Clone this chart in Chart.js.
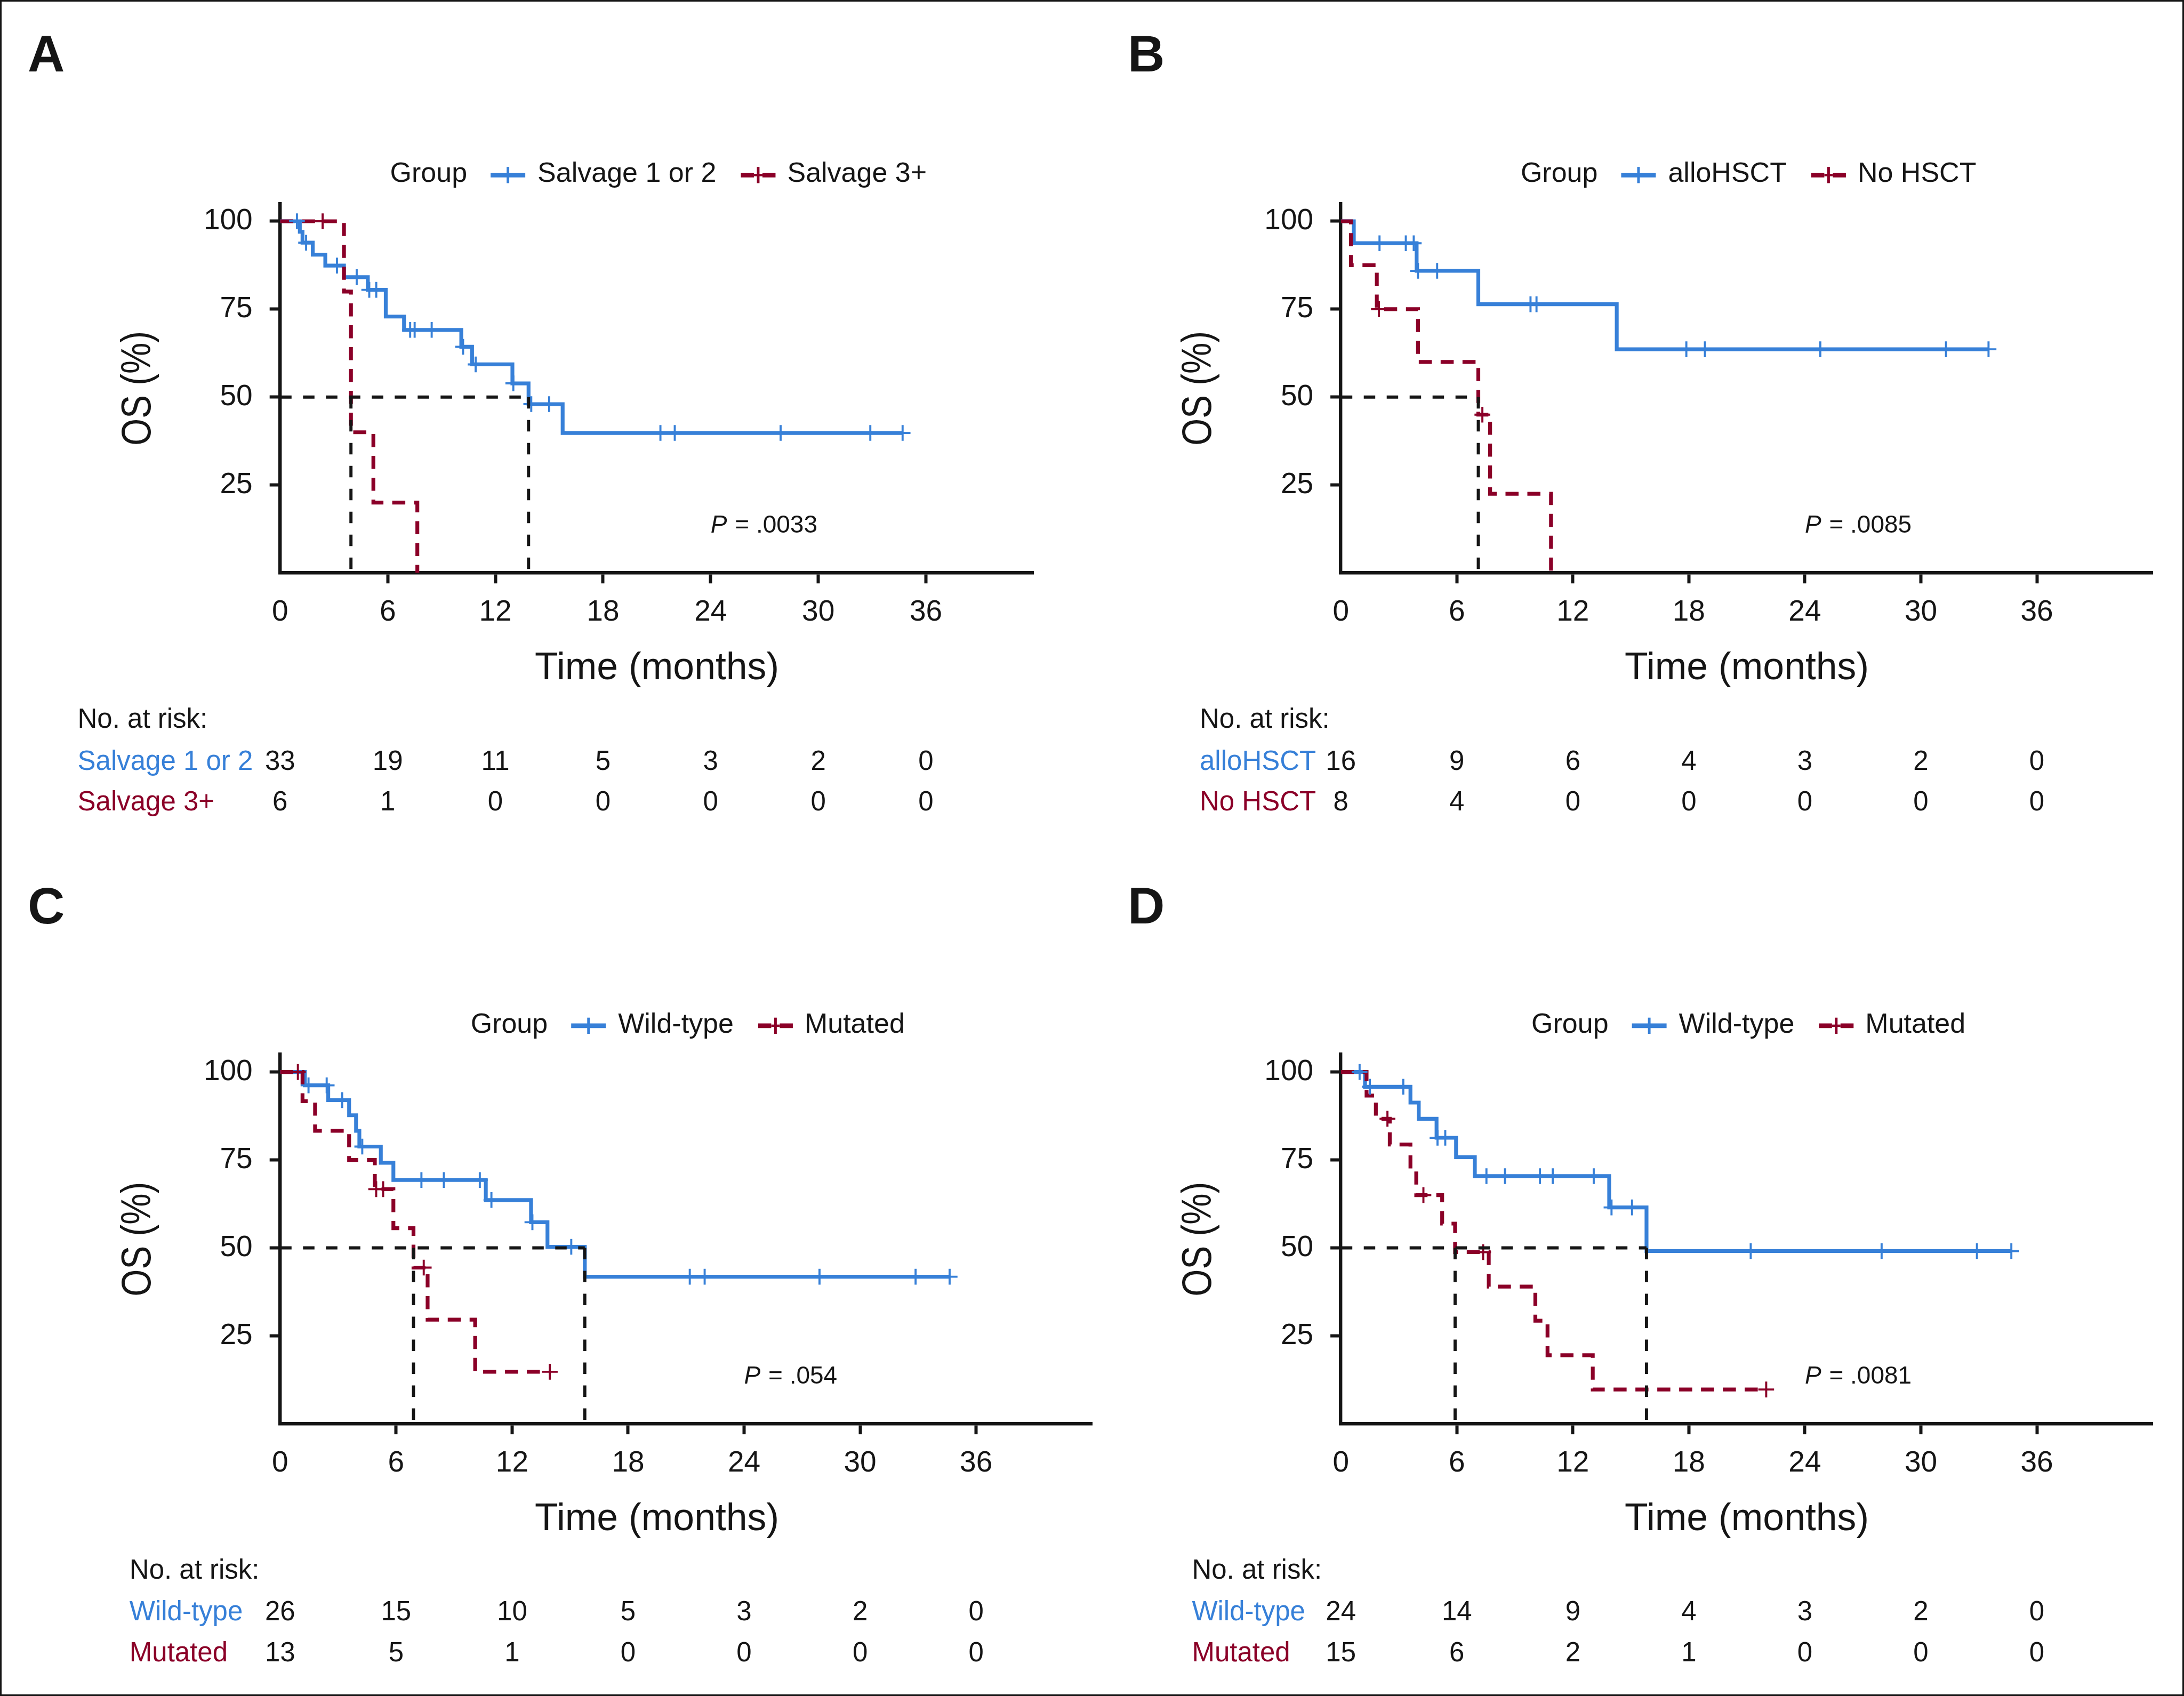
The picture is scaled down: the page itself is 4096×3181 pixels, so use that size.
<!DOCTYPE html>
<html>
<head>
<meta charset="utf-8">
<script src="https://cdn.jsdelivr.net/npm/chart.js@4/dist/chart.umd.min.js"></script>
<style>
html,body{margin:0;padding:0;background:#fff;}
#wrap{position:relative;width:4096px;height:3181px;overflow:hidden;background:#fff;}
#frame{position:absolute;left:0;top:0;width:4096px;height:3181px;box-sizing:border-box;border:3px solid #151515;pointer-events:none;}
canvas{position:absolute;}
</style>
</head>
<body>
<div id="wrap">
<canvas id="cA"></canvas>
<canvas id="cB"></canvas>
<canvas id="cC"></canvas>
<canvas id="cD"></canvas>
<div id="frame"></div>
</div>
<script>
// ---------------- DATA ----------------
const X_TICKS = [0, 6, 12, 18, 24, 30, 36];
const Y_TICKS = [25, 50, 75, 100];

// Panel A
const A_groups = ['Salvage 1 or 2', 'Salvage 3+'];
const A_blueTime = [0, 1.1, 1.25, 1.82, 2.52, 3.56, 4.89, 5.89, 6.91, 10.1, 10.7, 12.95, 13.85, 15.75];
const A_blueSurv = [100, 97.0, 93.9, 90.5, 87.4, 84.1, 80.5, 72.9, 69.1, 64.3, 59.3, 53.9, 48.0, 39.8];
const A_blueCens = [0.94, 1.45, 3.17, 4.27, 4.97, 5.36, 7.25, 7.5, 8.45, 10.2, 10.9, 13.0, 14.0, 15.0, 21.2, 22.0, 27.9, 32.9, 34.7];
const A_redTime = [0, 3.56, 3.95, 5.2, 7.65];
const A_redSurv = [100, 80, 40, 20, 0];
const A_redCens = [2.37];
const A_medians = [3.95, 13.85];
const A_riskBlue = [33, 19, 11, 5, 3, 2, 0];
const A_riskRed = [6, 1, 0, 0, 0, 0, 0];
const A_p = '.0033';

// Panel B
const B_groups = ['alloHSCT', 'No HSCT'];
const B_blueTime = [0, 0.67, 3.92, 7.11, 14.27];
const B_blueSurv = [100, 93.75, 85.9, 76.4, 63.6];
const B_blueCens = [2.0, 3.36, 3.77, 3.99, 4.98, 9.81, 10.12, 17.87, 18.83, 24.8, 31.3, 33.5];
const B_redTime = [0, 0.52, 1.86, 3.99, 7.11, 7.72, 10.87];
const B_redSurv = [100, 87.5, 75, 60, 45, 22.5, 0];
const B_redCens = [1.97, 7.32];
const B_medians = [7.11];
const B_riskBlue = [16, 9, 6, 4, 3, 2, 0];
const B_riskRed = [8, 4, 0, 0, 0, 0, 0];
const B_p = '.0085';

// Panel C
const C_groups = ['Wild-type', 'Mutated'];
const C_blueTime = [0, 1.28, 2.49, 3.57, 3.93, 4.1, 5.21, 5.86, 10.64, 12.98, 13.83, 15.76];
const C_blueSurv = [100, 96.2, 92.0, 87.7, 83.3, 78.8, 74.2, 69.3, 63.6, 57.3, 50.3, 41.8];
const C_blueCens = [1.47, 2.41, 3.21, 4.25, 7.31, 8.47, 10.33, 10.93, 13.05, 15.06, 21.19, 21.96, 27.9, 32.87, 34.63];
const C_redTime = [0, 1.16, 1.81, 3.57, 4.9, 5.86, 6.9, 7.63, 10.09];
const C_redSurv = [100, 91.7, 83.3, 75.0, 66.7, 55.6, 44.4, 29.6, 14.8];
const C_redCens = [0.92, 4.97, 5.33, 7.43, 13.95];
const C_medians = [6.9, 15.76];
const C_riskBlue = [26, 15, 10, 5, 3, 2, 0];
const C_riskRed = [13, 5, 1, 0, 0, 0, 0];
const C_p = '.054';

// Panel D
const D_groups = ['Wild-type', 'Mutated'];
const D_blueTime = [0, 1.25, 3.6, 4.03, 4.95, 5.96, 6.93, 13.88, 15.81];
const D_blueSurv = [100, 95.8, 91.3, 86.7, 81.3, 75.8, 70.4, 61.5, 49.1];
const D_blueCens = [0.97, 1.5, 3.23, 5.0, 5.4, 7.53, 8.49, 10.3, 10.96, 13.08, 14.0, 15.06, 21.2, 27.97, 32.9, 34.68];
const D_redTime = [0, 1.33, 1.81, 2.53, 3.6, 3.9, 5.24, 5.91, 7.65, 10.06, 10.69, 13.03];
const D_redSurv = [100, 93.3, 86.7, 79.4, 72.2, 65.0, 56.9, 48.8, 39.0, 29.3, 19.5, 9.75];
const D_redCens = [2.41, 4.27, 7.36, 22.0];
const D_medians = [5.91, 15.81];
const D_riskBlue = [24, 14, 9, 4, 3, 2, 0];
const D_riskRed = [15, 6, 2, 1, 0, 0, 0];
const D_p = '.0081';

// ---------------- STYLE / LAYOUT ----------------
const FONT = '"Liberation Sans", Arial, Helvetica, sans-serif';
const BLUE = '#3780d8';
const RED = '#8b0028';
const INK = '#151515';
const Y_AXIS_W = 220, X_AXIS_H = 110;

const PANELS = [
  {id:'cA', letter:'A', ox:0, oy:0, w:2100, h:1590,
   area:{l:525.3, t:382.0, r:1938.4, b:1074.6}, riskX:145.5, letterX:52, letterY:134.3, titleX:1232,
   groups:A_groups, blue:[A_blueTime, A_blueSurv, A_blueCens], red:[A_redTime, A_redSurv, A_redCens],
   medians:A_medians, risk:[A_riskBlue, A_riskRed], p:A_p},
  {id:'cB', letter:'B', ox:2100, oy:0, w:1996, h:1590,
   area:{l:2514.7, t:382.0, r:4037.6, b:1074.6}, riskX:2250, letterX:2115, letterY:134.3, titleX:3276,
   groups:B_groups, blue:[B_blueTime, B_blueSurv, B_blueCens], red:[B_redTime, B_redSurv, B_redCens],
   medians:B_medians, risk:[B_riskBlue, B_riskRed], p:B_p},
  {id:'cC', letter:'C', ox:0, oy:1590, w:2100, h:1591,
   area:{l:525.3, t:1977.6, r:2048.2, b:2670.5}, riskX:242.8, letterX:52, letterY:1731.5, titleX:1232,
   groups:C_groups, blue:[C_blueTime, C_blueSurv, C_blueCens], red:[C_redTime, C_redSurv, C_redCens],
   medians:C_medians, risk:[C_riskBlue, C_riskRed], p:C_p},
  {id:'cD', letter:'D', ox:2100, oy:1590, w:1996, h:1591,
   area:{l:2514.7, t:1977.6, r:4037.6, b:2670.5}, riskX:2235.4, letterX:2115, letterY:1731.5, titleX:3276,
   groups:D_groups, blue:[D_blueTime, D_blueSurv, D_blueCens], red:[D_redTime, D_redSurv, D_redCens],
   medians:D_medians, risk:[D_riskBlue, D_riskRed], p:D_p}
];

function stepData(times, surv, cens) {
  const pts = times.map((t, i) => ({x: t, y: surv[i]}));
  const lastC = cens.length ? Math.max.apply(null, cens) : 0;
  if (lastC > times[times.length - 1]) pts.push({x: lastC, y: surv[surv.length - 1]});
  return pts;
}
function survAt(times, surv, t) {
  let s = surv[0];
  for (let i = 0; i < times.length; i++) if (times[i] <= t) s = surv[i];
  return s;
}
function censData(times, surv, cens) {
  return cens.map(t => ({x: t, y: survAt(times, surv, t)}));
}

function drawSym(ctx, x, y, color, dashed) {
  ctx.save();
  ctx.strokeStyle = color;
  ctx.lineCap = 'butt';
  ctx.lineWidth = 8.8;
  ctx.beginPath();
  if (!dashed) {
    ctx.moveTo(x, y); ctx.lineTo(x + 65, y);
  } else {
    ctx.moveTo(x, y); ctx.lineTo(x + 24.5, y);
    ctx.moveTo(x + 40.5, y); ctx.lineTo(x + 65, y);
  }
  ctx.stroke();
  if (dashed) {
    ctx.lineWidth = 4.5;
    ctx.beginPath(); ctx.moveTo(x + 24.5, y); ctx.lineTo(x + 40.5, y); ctx.stroke();
  }
  ctx.lineWidth = 4.9;
  ctx.beginPath(); ctx.moveTo(x + 32.5, y - 15.2); ctx.lineTo(x + 32.5, y + 15.2); ctx.stroke();
  ctx.restore();
}

function decorPlugin(P) {
  return {
    id: 'kmDecor',
    afterDraw(chart) {
      const ctx = chart.ctx, ca = chart.chartArea, xs = chart.scales.x, ys = chart.scales.y;
      ctx.save();
      ctx.fillStyle = INK;
      ctx.textAlign = 'left';
      ctx.textBaseline = 'alphabetic';
      // panel letter
      ctx.font = 'bold 96px ' + FONT;
      ctx.fillText(P.letter, P.letterX - P.ox, P.letterY - P.oy);

      // legend
      ctx.font = '52px ' + FONT;
      const wG = ctx.measureText('Group').width;
      const w1 = ctx.measureText(P.groups[0]).width;
      const w2 = ctx.measureText(P.groups[1]).width;
      const SYM = 65, G1 = 44, G2 = 23, G3 = 46, G4 = 22;
      const total = wG + G1 + SYM + G2 + w1 + G3 + SYM + G4 + w2;
      let x = (ca.left + ca.right) / 2 - total / 2 + 3;
      const base = ca.top - 41, sy = ca.top - 53.7;
      ctx.fillText('Group', x, base); x += wG + G1;
      drawSym(ctx, x, sy, BLUE, false); x += SYM + G2;
      ctx.fillText(P.groups[0], x, base); x += w1 + G3;
      drawSym(ctx, x, sy, RED, true); x += SYM + G4;
      ctx.fillText(P.groups[1], x, base);

      // x title
      ctx.font = '71.5px ' + FONT;
      ctx.textAlign = 'center';
      ctx.fillText('Time (months)', P.titleX - P.ox, ca.bottom + 199.4);

      // y title
      ctx.save();
      ctx.translate(ca.left - 264, (ca.top + ca.bottom) / 2);
      ctx.rotate(-Math.PI / 2);
      ctx.scale(0.84, 1);
      ctx.font = '78px ' + FONT;
      ctx.textAlign = 'center';
      ctx.fillText('OS (%)', 0, 0.26 * 78);
      ctx.restore();

      // P value
      const px = xs.getPixelForValue(24), py = ys.getPixelForValue(11.5);
      ctx.textAlign = 'left';
      ctx.font = 'italic 46px ' + FONT;
      ctx.fillText('P', px, py);
      const wp = ctx.measureText('P').width;
      ctx.font = '46px ' + FONT;
      ctx.fillText(' = ' + P.p, px + wp + 2, py);

      // risk table
      const rx = P.riskX - P.ox;
      ctx.font = '51px ' + FONT;
      ctx.fillStyle = INK;
      ctx.fillText('No. at risk:', rx, ca.bottom + 290.4);
      const rows = [ca.bottom + 368.9, ca.bottom + 445.4];
      const cols = [BLUE, RED];
      for (let r = 0; r < 2; r++) {
        ctx.textAlign = 'left';
        ctx.fillStyle = cols[r];
        ctx.fillText(P.groups[r], rx, rows[r]);
        ctx.fillStyle = INK;
        ctx.textAlign = 'center';
        P.risk[r].forEach((v, i) => {
          ctx.fillText(String(v), xs.getPixelForValue(X_TICKS[i]), rows[r]);
        });
      }
      ctx.restore();
    }
  };
}

function makeChart(P) {
  const cv = document.getElementById(P.id);
  cv.width = P.w; cv.height = P.h;
  cv.style.left = P.ox + 'px'; cv.style.top = P.oy + 'px';
  cv.style.width = P.w + 'px'; cv.style.height = P.h + 'px';

  const datasets = [];
  const mMax = Math.max.apply(null, P.medians);
  const blackLine = {type: 'line', borderColor: INK, borderWidth: 5.9, borderDash: [21.5, 21.5],
                     pointRadius: 0, fill: false, tension: 0};
  datasets.push(Object.assign({}, blackLine, {data: [{x: 0, y: 50}, {x: mMax, y: 50}]}));
  P.medians.forEach(m => datasets.push(Object.assign({}, blackLine, {data: [{x: m, y: 50}, {x: m, y: 0}]})));

  const censOpts = c => ({type: 'line', showLine: false, pointStyle: 'cross', pointRadius: 14.8,
                          pointHoverRadius: 14.8, pointBorderWidth: 3.9, borderColor: c, backgroundColor: c});
  datasets.push(Object.assign(censOpts(RED), {data: censData(P.red[0], P.red[1], P.red[2])}));
  datasets.push(Object.assign(censOpts(BLUE), {data: censData(P.blue[0], P.blue[1], P.blue[2])}));
  datasets.push({type: 'line', data: stepData(P.red[0], P.red[1], P.red[2]), stepped: 'before',
                 borderColor: RED, borderWidth: 7.2, borderDash: [24.5, 16.5], pointRadius: 0, fill: false});
  datasets.push({type: 'line', data: stepData(P.blue[0], P.blue[1], P.blue[2]), stepped: 'before',
                 borderColor: BLUE, borderWidth: 7.2, pointRadius: 0, fill: false});

  const a = P.area;
  const tickCol = c => (c.tick && c.tick.value === 0) ? 'rgba(0,0,0,0)' : INK;
  new Chart(cv, {
    type: 'line',
    data: {datasets},
    options: {
      responsive: false, animation: false, devicePixelRatio: 1,
      events: [],
      layout: {autoPadding: false, padding: {
        left: a.l - P.ox - Y_AXIS_W, top: a.t - P.oy,
        right: P.ox + P.w - a.r, bottom: P.oy + P.h - a.b - X_AXIS_H}},
      plugins: {legend: {display: false}, tooltip: {enabled: false}},
      scales: {
        x: {type: 'linear', min: 0, max: 42, position: 'bottom',
            afterBuildTicks: s => { s.ticks = X_TICKS.map(v => ({value: v})); },
            afterFit: s => { s.height = X_AXIS_H; },
            grid: {drawOnChartArea: false, drawTicks: true, tickLength: 19.6, tickWidth: 6, tickColor: tickCol},
            border: {display: true, color: INK, width: 6.4},
            ticks: {font: {family: FONT, size: 55}, color: INK, padding: 22, maxRotation: 0, minRotation: 0,
                    autoSkip: false, callback: v => String(v)}},
        y: {type: 'linear', min: 0, max: 105, position: 'left',
            afterBuildTicks: s => { s.ticks = Y_TICKS.map(v => ({value: v})); },
            afterFit: s => { s.width = Y_AXIS_W; },
            grid: {drawOnChartArea: false, drawTicks: true, tickLength: 19.6, tickWidth: 6, tickColor: INK},
            border: {display: true, color: INK, width: 6.4},
            ticks: {font: {family: FONT, size: 55}, color: INK, padding: 32, autoSkip: false,
                    callback: v => String(v)}}
      }
    },
    plugins: [decorPlugin(P)]
  });
}

PANELS.forEach(makeChart);
</script>
</body>
</html>
